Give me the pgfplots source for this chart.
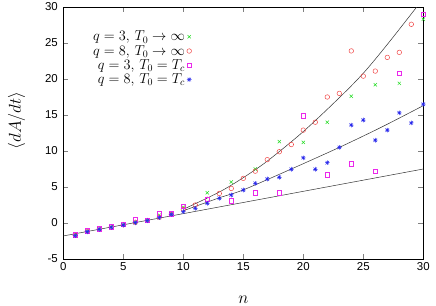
\documentclass[border=0pt]{standalone}
\usepackage{fontspec}
\setmainfont{Liberation Sans}
\usepackage{pgfplots}
\pgfplotsset{compat=1.18}
\pgfdeclareplotmark{plusx}{%
  \pgfpathmoveto{\pgfqpoint{-\pgfplotmarksize}{0pt}}%
  \pgfpathlineto{\pgfqpoint{\pgfplotmarksize}{0pt}}%
  \pgfpathmoveto{\pgfqpoint{0pt}{-\pgfplotmarksize}}%
  \pgfpathlineto{\pgfqpoint{0pt}{\pgfplotmarksize}}%
  \pgfpathmoveto{\pgfqpoint{-.75\pgfplotmarksize}{-.75\pgfplotmarksize}}%
  \pgfpathlineto{\pgfqpoint{.75\pgfplotmarksize}{.75\pgfplotmarksize}}%
  \pgfpathmoveto{\pgfqpoint{-.75\pgfplotmarksize}{.75\pgfplotmarksize}}%
  \pgfpathlineto{\pgfqpoint{.75\pgfplotmarksize}{-.75\pgfplotmarksize}}%
  \pgfusepathqstroke}
\definecolor{cgreen}{RGB}{40,220,40}
\definecolor{cred}{RGB}{240,70,70}
\definecolor{cmag}{RGB}{235,40,235}
\definecolor{cblue}{RGB}{40,40,235}
\newcommand{\entA}{$q=3,\,T_0\to\infty$}
\newcommand{\entB}{$q=8,\,T_0\to\infty$}
\newcommand{\entC}{$q=3,\,T_0=T_c$}
\newcommand{\entD}{$q=8,\,T_0=T_c$}
\begin{document}
\begin{tikzpicture}
\useasboundingbox (-63.3bp,-47bp) rectangle (372.7bp,259bp);
\begin{axis}[
  at={(0,0)}, anchor=south west,
  scale only axis, width=360bp, height=252bp,
  xmin=0, xmax=30, ymin=-5, ymax=30,
  xtick={0,5,...,30}, ytick={-5,0,...,30},
  tick pos=both, tick align=inside, major tick length=5bp,
  minor tick num=0,
  /pgf/number format/assume math mode=true,
  tick label style={font=\fontsize{11.5}{13}\selectfont},
  yticklabel style={xshift=-2bp},
  xlabel={$n$}, ylabel={$\langle dA/dt\rangle$},
  label style={font=\fontsize{19}{21}\selectfont, inner sep=0pt},
  xlabel style={at={(axis description cs:0.5,-0.16)}, anchor=center},
  ylabel style={at={(axis description cs:-0.13,0.55)}, anchor=center},
  legend style={at={(0.365,0.921)}, anchor=north east, draw=none, fill=none,
    font=\fontsize{14}{15}\selectfont, row sep=-1bp},
  legend cell align=right, legend plot pos=right,
  every axis plot/.append style={line width=0.5pt},
  mark size=2.3bp,
]
\addplot[only marks, mark=x, cgreen] coordinates {
(1,-1.7)(2,-1.2)(3,-0.85)(4,-0.55)(5,-0.25)(6,0.1)(7,0.35)(8,1.1)(9,1.2)(10,2.2)
(12,4.2)(14,5.7)(16,7.5)(18,11.3)(20,11.2)(22,14.0)(24,17.6)(26,19.2)(28,19.4)(30,28.3)};
\addlegendentry{\entA}
\addplot[only marks, mark=o, cred] coordinates {
(1,-1.7)(2,-1.15)(3,-0.85)(4,-0.55)(5,-0.25)(6,0.1)(7,0.35)(8,0.8)(9,1.2)(10,1.9)
(11,2.5)(12,3.3)(13,4.1)(14,4.8)(15,6.2)(16,7.2)(17,8.8)(18,9.9)(19,10.9)(20,12.9)
(21,14.0)(22,17.5)(23,18.0)(24,23.9)(25,20.4)(26,21.1)(27,23.0)(28,23.7)(29,27.6)};
\addlegendentry{\entB}
\addplot[only marks, mark=square, cmag] coordinates {
(1,-1.65)(2,-1.1)(3,-0.8)(4,-0.5)(5,-0.2)(6,0.42)(7,0.4)(8,1.25)(9,1.25)(10,2.3)
(12,3.3)(14,3.1)(16,4.2)(18,4.2)(20,14.9)(22,6.7)(24,8.2)(26,7.2)(28,20.8)(30,29.0)};
\addlegendentry{\entC}
\addplot[only marks, mark=plusx, cblue] coordinates {
(1,-1.76)(2,-1.21)(3,-0.87)(4,-0.59)(5,-0.28)(6,0.04)(7,0.32)(8,0.74)(9,1.2)(10,1.57)
(11,2.04)(12,2.74)(13,3.43)(14,3.89)(15,4.58)(16,5.51)(17,6.11)(18,6.35)(19,7.46)(20,9.05)
(21,7.46)(22,8.38)(23,10.5)(24,13.6)(25,14.3)(26,11.5)(27,12.9)(28,15.3)(29,13.9)(30,16.5)};
\addlegendentry{\entD}
\addplot[black!80, forget plot] coordinates {(0,-1.8)(30,7.5)};
\addplot[black!80, smooth, forget plot] coordinates {
(10,1.7)(13,3.5)(15,4.6)(19,7.5)(23,10.5)(26.5,13.3)(30,16.3)};
\addplot[black!80, smooth, forget plot] coordinates {
(10,1.9)(13,4.3)(15,6.3)(17,8.6)(20,12.7)(23,17.4)(25,20.8)(27,24.8)(29.45,30)};
\end{axis}
\end{tikzpicture}
\end{document}
